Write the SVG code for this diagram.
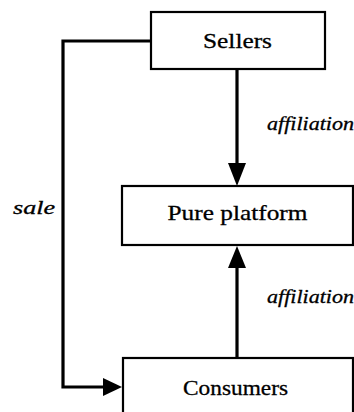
<svg xmlns="http://www.w3.org/2000/svg" width="354" height="412" viewBox="0 0 354 412">
<style>
.box{fill:#fff;stroke:#000;stroke-width:2.2}
.lbl{font-family:"Liberation Serif","Times New Roman",serif;font-size:22px;fill:#000;stroke:#000;stroke-width:0.3;text-anchor:middle}
.it{font-family:"Liberation Serif","Times New Roman",serif;font-size:18px;font-style:italic;fill:#000;stroke:#000;stroke-width:0.3}
.con{fill:none;stroke:#000;stroke-width:3.2}
.head{fill:#000}
</style>
<rect width="354" height="412" fill="#fff"/>
<g id="connectors">
<path class="con" d="M150 41 H63 V387 H104"/>
<polygon class="head" points="122,387 103,378 103,396"/>
<path class="con" d="M237 69 V166"/>
<polygon class="head" points="237,186 228,163 246,163"/>
<path class="con" d="M237 358 V266"/>
<polygon class="head" points="237,246 228,268 246,268"/>
<text class="it" x="267" y="130" textLength="87" lengthAdjust="spacingAndGlyphs">affiliation</text>
<text class="it" x="13" y="214" textLength="42" lengthAdjust="spacingAndGlyphs">sale</text>
<text class="it" x="267" y="303" textLength="87" lengthAdjust="spacingAndGlyphs">affiliation</text>
</g>
<g id="sellers">
<rect class="box" x="151" y="12" width="174" height="57"/>
<text class="lbl" x="237.5" y="48" textLength="69" lengthAdjust="spacingAndGlyphs">Sellers</text>
</g>
<g id="platform">
<rect class="box" x="122" y="186" width="231" height="59"/>
<text class="lbl" x="237.5" y="220" textLength="140" lengthAdjust="spacingAndGlyphs">Pure platform</text>
</g>
<g id="consumers">
<rect class="box" x="123" y="358" width="230" height="60"/>
<text class="lbl" x="235.5" y="395" textLength="105" lengthAdjust="spacingAndGlyphs">Consumers</text>
</g>
</svg>
